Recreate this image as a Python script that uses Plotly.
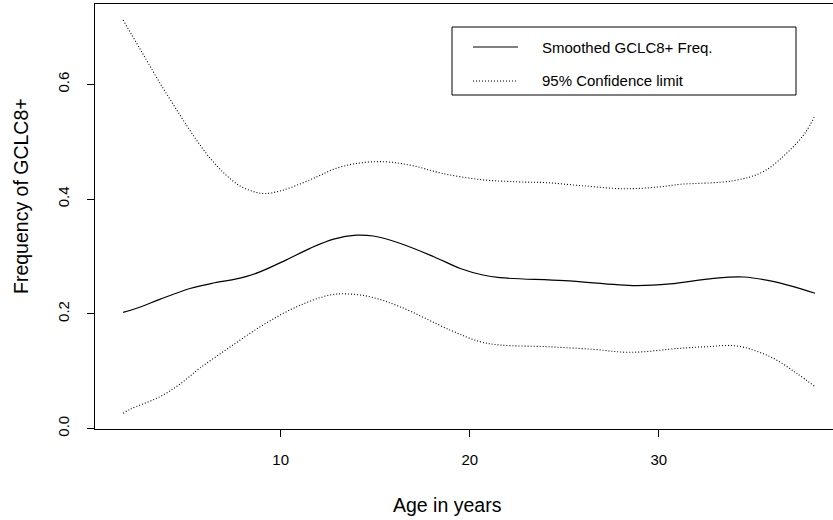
import plotly.graph_objects as go

# ---- data ----
age_fit = [1.66, 2.5, 3.6, 5.2, 6.5, 7.85, 8.9, 10.3, 11.55, 12.8, 14.0, 14.9, 16.3,
           18.1, 19.5, 20.7, 21.6, 25.0, 28.8, 30.6, 32.9, 34.5, 36.1, 38.27]
freq_fit = [0.2025, 0.211, 0.225, 0.244, 0.254, 0.262, 0.273, 0.294, 0.314, 0.330,
            0.337, 0.3355, 0.323, 0.2995, 0.279, 0.2676, 0.263, 0.2576, 0.249, 0.252,
            0.2618, 0.2641, 0.2559, 0.2357]

age_upper = [1.66, 2.56, 3.61, 4.67, 5.47, 6.26, 7.05, 7.85, 8.64, 9.17, 9.96, 11.02,
             12.0, 12.8, 14.0, 15.5, 17.0, 18.5, 20.55, 22.5, 24.07, 26.0, 28.13, 30.0,
             31.13, 33.95, 35.53, 36.77, 37.74, 38.27]
freq_upper = [0.712, 0.6615, 0.6023, 0.5465, 0.5064, 0.4715, 0.4436, 0.4227, 0.4122,
              0.4096, 0.414, 0.4262, 0.440, 0.452, 0.462, 0.465, 0.458, 0.445, 0.434,
              0.430, 0.4285, 0.423, 0.418, 0.421, 0.4256, 0.432, 0.4477, 0.480,
              0.515, 0.546]

age_lower = [1.66, 2.03, 3.61, 4.67, 5.73, 7.32, 9.06, 10.85, 12.61, 13.67, 14.8,
             16.31, 18.96, 20.55, 21.6, 24.07, 26.5, 28.48, 31.13, 32.5, 34.13, 35.89,
             37.3, 38.27]
freq_lower = [0.0265, 0.0335, 0.0554, 0.0774, 0.1054, 0.1420, 0.1803, 0.2123, 0.2327,
              0.2344, 0.229, 0.2123, 0.1717, 0.1513, 0.1455, 0.1426, 0.138, 0.1328,
              0.1398, 0.1425, 0.1438, 0.1252, 0.0962, 0.0729]

x_ticks = [10, 20, 30]
y_ticks = [0.0, 0.2, 0.4, 0.6]
y_tick_labels = ["0.0", "0.2", "0.4", "0.6"]

legend_labels = ["Smoothed GCLC8+ Freq.", "95% Confidence limit"]
x_title = "Age in years"
y_title = "Frequency of GCLC8+"

FONT = "Liberation Sans, Arial, Helvetica, sans-serif"
DOT = "1px,2px"

W, H = 833, 520
ML, MR, MT, MB = 95, 0, 4, 91
PW, PH = W - ML - MR, H - MT - MB


def px(x):
    return (x - ML) / PW


def py(y):
    return (H - MB - y) / PH


fig = go.Figure()
fig.add_trace(go.Scatter(x=age_fit, y=freq_fit, mode="lines",
                         line=dict(color="black", width=1.2, shape="spline"),
                         showlegend=False))
fig.add_trace(go.Scatter(x=age_upper, y=freq_upper, mode="lines",
                         line=dict(color="black", width=1.1, dash=DOT, shape="spline"),
                         showlegend=False))
fig.add_trace(go.Scatter(x=age_lower, y=freq_lower, mode="lines",
                         line=dict(color="black", width=1.1, dash=DOT, shape="spline"),
                         showlegend=False))

# legend (drawn manually to match R's legend box)
shapes = [
    dict(type="rect", xref="paper", yref="paper", x0=px(452), x1=px(796),
         y0=py(95), y1=py(27), line=dict(color="black", width=1)),
    dict(type="line", xref="paper", yref="paper", x0=px(473), x1=px(518),
         y0=py(47), y1=py(47), line=dict(color="black", width=1.2)),
    dict(type="line", xref="paper", yref="paper", x0=px(473), x1=px(518),
         y0=py(81), y1=py(81), line=dict(color="black", width=1.1, dash=DOT)),
]
annotations = [
    dict(text=legend_labels[0], xref="paper", yref="paper", x=px(540), y=py(47.5),
         xanchor="left", yanchor="middle", showarrow=False,
         font=dict(family=FONT, size=15, color="black")),
    dict(text=legend_labels[1], xref="paper", yref="paper", x=px(540), y=py(80.5),
         xanchor="left", yanchor="middle", showarrow=False,
         font=dict(family=FONT, size=15, color="black")),
    dict(text=x_title, xref="paper", yref="paper", x=px(447), y=py(505),
         xanchor="center", yanchor="middle", showarrow=False,
         font=dict(family=FONT, size=19.5, color="black")),
    dict(text=y_title, xref="paper", yref="paper", x=px(21), y=py(196),
         xanchor="center", yanchor="middle", showarrow=False, textangle=-90,
         font=dict(family=FONT, size=19.5, color="black")),
]

fig.update_layout(
    width=W, height=H,
    margin=dict(l=ML, r=MR, t=MT, b=MB, pad=0),
    paper_bgcolor="white", plot_bgcolor="white",
    shapes=shapes, annotations=annotations,
    font=dict(family=FONT, size=15, color="black"),
    xaxis=dict(range=[0.175, 39.22], tickvals=x_ticks, ticks="outside", ticklen=7,
               tickcolor="black", tickwidth=1, showline=True, linecolor="black",
               linewidth=1, mirror=True, showgrid=False, zeroline=False,
               tickfont=dict(family=FONT, size=15), ticklabelstandoff=10),
    yaxis=dict(range=[-0.0009, 0.740], tickvals=y_ticks, ticktext=y_tick_labels,
               ticks="outside", ticklen=7, tickcolor="black", tickwidth=1,
               showline=True, linecolor="black", linewidth=1, mirror=False,
               showgrid=False, zeroline=False, tickangle=-90,
               tickfont=dict(family=FONT, size=15), ticklabelstandoff=12),
)

fig.write_html("out.html")
